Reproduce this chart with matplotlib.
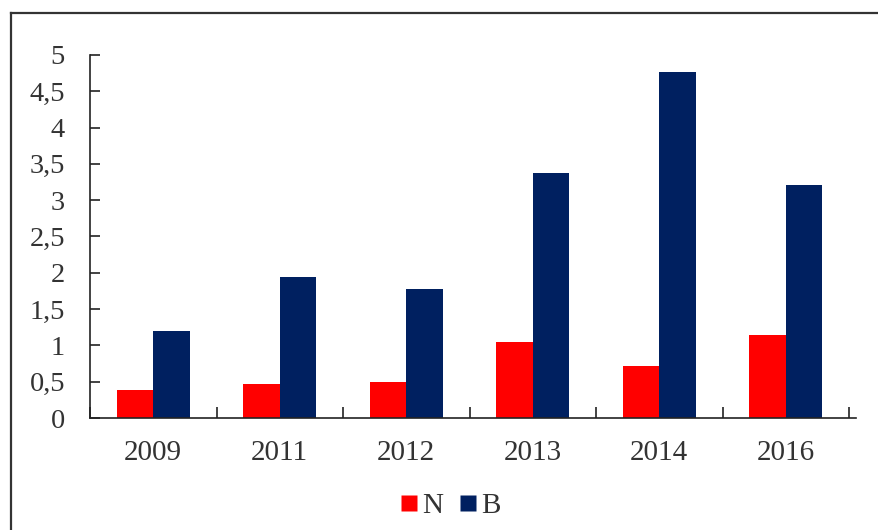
import matplotlib
matplotlib.use("Agg")
import matplotlib.pyplot as plt
from matplotlib.lines import Line2D
import numpy as np

categories = ["2009", "2011", "2012", "2013", "2014", "2016"]
n_values = [0.39, 0.47, 0.50, 1.04, 0.71, 1.14]
b_values = [1.20, 1.94, 1.78, 3.37, 4.77, 3.21]
y_ticks = [0, 0.5, 1, 1.5, 2, 2.5, 3, 3.5, 4, 4.5, 5]
y_tick_labels = ["0", "0,5", "1", "1,5", "2", "2,5", "3", "3,5", "4", "4,5", "5"]

plt.rcParams["font.family"] = ["Liberation Serif", "DejaVu Serif"]

W, H = 879, 530
fig = plt.figure(figsize=(W / 100, H / 100), dpi=100)
ax = fig.add_axes([90 / W, 1 - 418 / H, (856 - 90) / W, (418 - 55) / H])

x = np.arange(len(categories))
bw = 0.29
red = "#FF0000"
blue = "#002060"
ax.bar(x - bw / 2, n_values, width=bw, color=red, edgecolor="none", label="N")
ax.bar(x + bw / 2, b_values, width=bw, color=blue, edgecolor="none", label="B")

ax.set_ylim(0, 5)
ax.set_xlim(-0.5, 5.555)
ax.set_yticks(y_ticks)
ax.set_yticklabels(y_tick_labels)
ax.set_xticks(np.arange(-0.5, len(categories), 1.0))
ax.set_xticklabels([])
ax.set_xticks(x, minor=True)
ax.set_xticklabels(categories, minor=True)

for s in ["top", "right"]:
    ax.spines[s].set_visible(False)
for s in ["left", "bottom"]:
    ax.spines[s].set_color("#222222")
    ax.spines[s].set_linewidth(1.2)

ax.tick_params(axis="y", direction="in", length=7, width=1.2, color="#222222",
               labelsize=20.5, pad=18, labelcolor="#333333")
ax.tick_params(axis="x", which="major", direction="in", length=8, width=1.2,
               color="#222222")
ax.tick_params(axis="x", which="minor", length=0, labelsize=21, pad=16,
               labelcolor="#333333")

handles = [
    Line2D([], [], linestyle="none", marker="s", markersize=11,
           markerfacecolor=red, markeredgecolor="none"),
    Line2D([], [], linestyle="none", marker="s", markersize=11,
           markerfacecolor=blue, markeredgecolor="none"),
]
fig.legend(handles, ["N", "B"], loc="center", bbox_to_anchor=(450 / W, 1 - 506 / H),
           ncol=2, frameon=False, fontsize=21, handlelength=0.6, handletextpad=0.15,
           columnspacing=0.55, labelcolor="#333333")

# cropped outer frame (top and left edges visible)
fig.add_artist(Line2D([11 / W, 11 / W], [0, 1 - 13 / H], transform=fig.transFigure,
                      color="#333333", linewidth=1.6))
fig.add_artist(Line2D([11 / W, 1], [1 - 13 / H, 1 - 13 / H], transform=fig.transFigure,
                      color="#333333", linewidth=1.6))

fig.savefig("out.png", dpi=100)
